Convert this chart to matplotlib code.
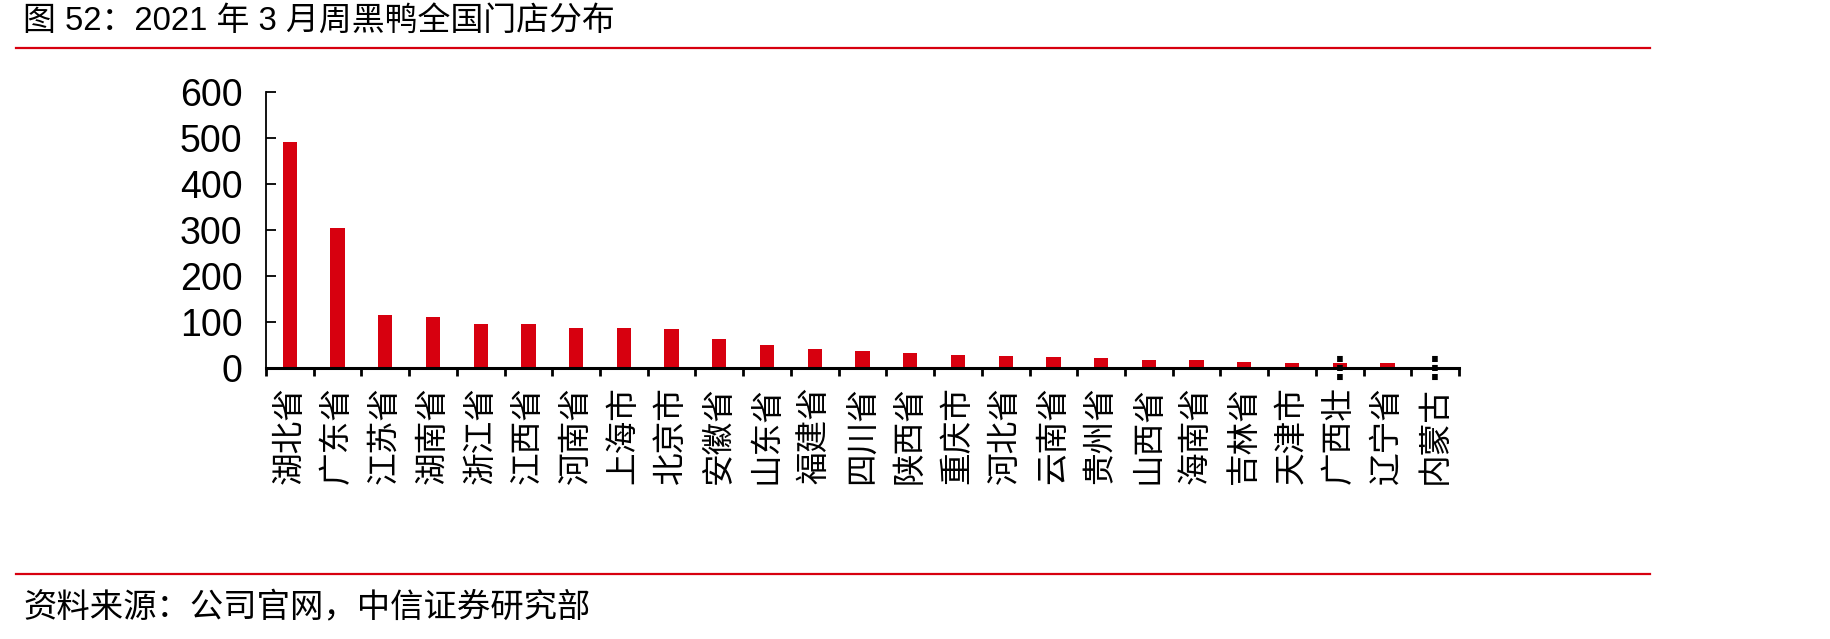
import matplotlib
matplotlib.use("Agg")
import matplotlib.pyplot as plt
import matplotlib.transforms as mtransforms
import numpy as np

plt.rcParams['font.family'] = ['Liberation Sans', 'Noto Sans CJK SC', 'DejaVu Sans']

title = "图 52：2021 年 3 月周黑鸭全国门店分布"
source = "资料来源：公司官网，中信证券研究部"
categories = ["湖北省", "广东省", "江苏省", "湖南省", "浙江省", "江西省", "河南省", "上海市",
              "北京市", "安徽省", "山东省", "福建省", "四川省", "陕西省", "重庆市", "河北省",
              "云南省", "贵州省", "山西省", "海南省", "吉林省", "天津市", "广西壮族自治区",
              "辽宁省", "内蒙古自治区"]
stores = [491, 305, 115, 110, 96, 96, 87, 86, 85, 62, 51, 42, 38, 33, 28, 27, 24, 22, 18, 18,
          14, 11, 11, 11, 1]
yticks = [0, 100, 200, 300, 400, 500, 600]

RED = "#D7000F"
W, H = 1830, 639
fig = plt.figure(figsize=(W / 100, H / 100), dpi=100)

ax = fig.add_axes([266 / W, 1 - 368 / H, (1459 - 266) / W, (368 - 92) / H])
x = np.arange(len(categories))
ax.bar(x, stores, width=0.3, color=RED, zorder=2)

ax.set_xlim(-0.5, len(categories) - 0.5)
ax.set_ylim(0, 600)
ax.set_yticks(yticks)
ax.set_yticklabels([str(v) for v in yticks], fontsize=27)
ax.tick_params(axis='y', direction='in', length=7, width=1.3, pad=17, colors='black')

# boundaries as major ticks, labels at minor ticks
ax.set_xticks(np.arange(-0.5, len(categories), 1.0))
ax.set_xticklabels([])
ax.tick_params(axis='x', which='major', direction='out', length=6, width=2)
ax.set_xticks(x, minor=True)
short = [c if len(c) <= 3 else c[:3] for c in categories]
ax.set_xticklabels(short, minor=True, rotation=90, fontsize=23.5, va='top', ha='center')
ax.tick_params(axis='x', which='minor', length=0, pad=13)

# ellipsis for truncated labels
trans = mtransforms.offset_copy(ax.get_xaxis_transform(), fig=fig, x=0, y=-3, units='dots')
for i, c in enumerate(categories):
    if len(c) > 3:
        ax.text(i, 0, "⋮", transform=trans, ha='center', va='center', fontsize=23,
                color='black', clip_on=False, zorder=5, fontweight='bold')

for s in ['top', 'right']:
    ax.spines[s].set_visible(False)
ax.spines['bottom'].set_linewidth(2.2)
ax.spines['left'].set_linewidth(1.3)

# header / footer
fig.text(23 / W, 1 - 21 / H, title, fontsize=23.7, va='center', ha='left')
fig.add_artist(plt.Line2D([16 / W, 1650 / W], [1 - 48 / H, 1 - 48 / H], color=RED, lw=1.6,
                          transform=fig.transFigure))
fig.add_artist(plt.Line2D([16 / W, 1650 / W], [1 - 574 / H, 1 - 574 / H], color=RED, lw=1.6,
                          transform=fig.transFigure))
fig.text(23 / W, 1 - 607 / H, source, fontsize=24, va='center', ha='left')

fig.savefig("out.png", dpi=100)
